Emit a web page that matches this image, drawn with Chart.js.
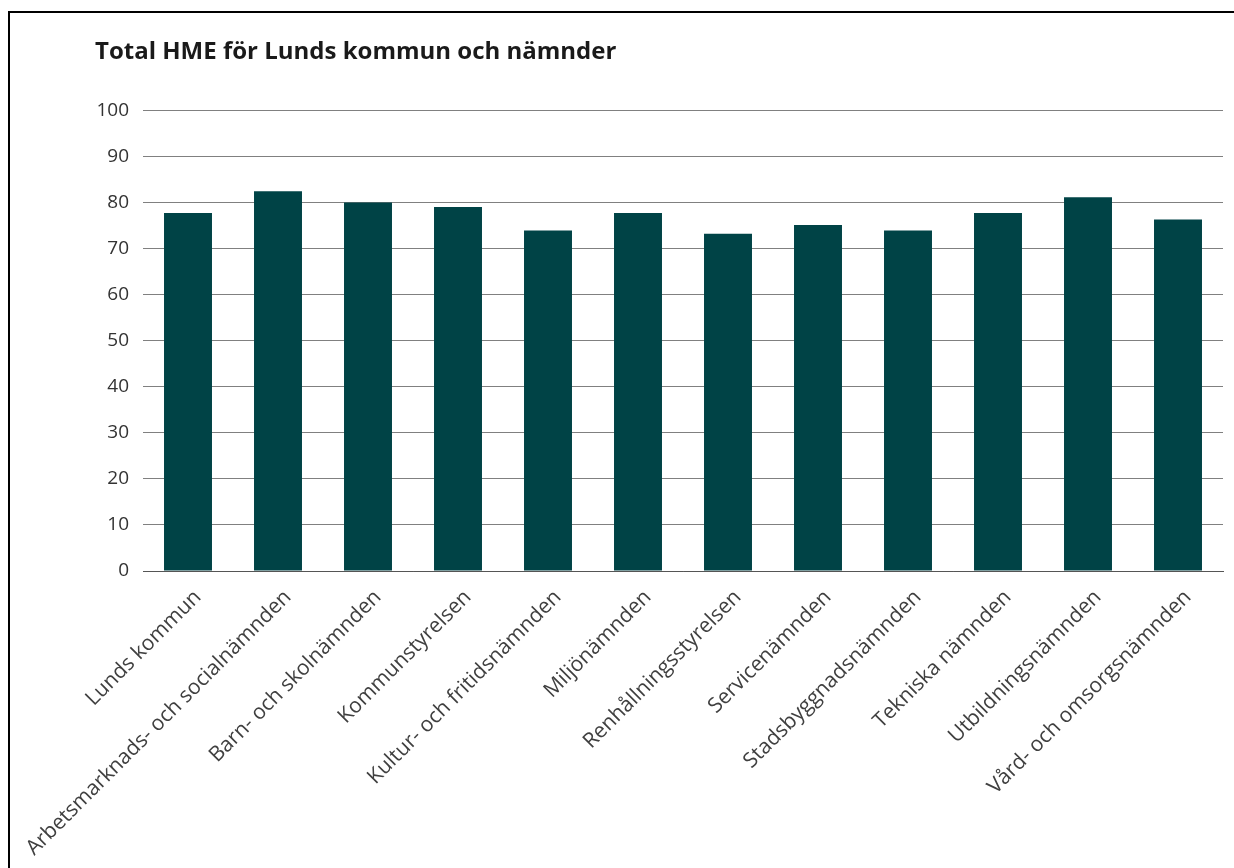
<!DOCTYPE html>
<html>
<head>
<meta charset="utf-8">
<script src="https://cdn.jsdelivr.net/npm/chart.js@4.4.0/dist/chart.umd.min.js"></script>
<style>
  html, body { margin: 0; padding: 0; background: #fff; overflow: hidden; }
  #frame {
    position: absolute; left: 8px; top: 11px; width: 1300px; height: 900px;
    border-left: 2px solid #000; border-top: 2px solid #000;
  }
  #wrap { position: absolute; left: 0; top: 0; width: 1234px; height: 868px; }
</style>
</head>
<body>
<div id="frame"></div>
<div id="wrap"><canvas id="hme"></canvas></div>
<script>
// categories (nämnder)
const categories = [
  "Lunds kommun",
  "Arbetsmarknads- och socialnämnden",
  "Barn- och skolnämnden",
  "Kommunstyrelsen",
  "Kultur- och fritidsnämnden",
  "Miljönämnden",
  "Renhållningsstyrelsen",
  "Servicenämnden",
  "Stadsbyggnadsnämnden",
  "Tekniska nämnden",
  "Utbildningsnämnden",
  "Vård- och omsorgsnämnden"
];

// total HME values
const hmeValues = [77.8, 82.5, 80.1, 79.1, 74.0, 77.8, 73.3, 75.2, 74.0, 77.8, 81.2, 76.4];

// y axis ticks
const yMin = 0;
const yMax = 100;
const yStep = 10;

const titleText = "Total HME för Lunds kommun och nämnder";

const fontFamily = "'Open Sans', 'Noto Sans', sans-serif";

let ctx = document.getElementById("hme").getContext("2d");
let chart = new Chart(ctx, {
  type: "bar",
  data: {
    labels: categories,
    datasets: [
      {
        data: hmeValues,
        backgroundColor: "#004346",
        borderWidth: 0,
        categoryPercentage: 1,
        barPercentage: 0.533
      }
    ]
  },
  options: {
    responsive: true,
    maintainAspectRatio: false,
    animation: false,
    layout: { padding: { left: 95, right: 11, top: 30, bottom: 0 } },
    plugins: {
      legend: { display: false },
      tooltip: { enabled: false },
      title: {
        display: true,
        text: titleText,
        align: "start",
        color: "#1a1a1a",
        font: { family: fontFamily, size: 24, weight: "bold" },
        padding: { top: 8, bottom: 44 }
      }
    },
    scales: {
      x: {
        grid: { display: false },
        border: { display: true, color: "#555555", width: 1 },
        ticks: {
          color: "#404040",
          font: { family: fontFamily, size: 21 },
          minRotation: 45,
          maxRotation: 45,
          padding: 6,
          labelOffset: 10
        },
        //fix the axis height so the plot bottom lands at the 0 line
        afterFit: (scale) => {
          scale.height = 297;
          scale.paddingLeft = 0;
          scale.paddingRight = 0;
        }
      },
      y: {
        min: yMin,
        max: yMax,
        grid: { color: "#808080", lineWidth: 1, drawTicks: false },
        border: { display: false },
        ticks: {
          stepSize: yStep,
          color: "#333333",
          font: { family: fontFamily, size: 19 },
          padding: 14
        },
        afterFit: (scale) => {
          scale.width = 48;
        }
      }
    }
  }
});
</script>
</body>
</html>
